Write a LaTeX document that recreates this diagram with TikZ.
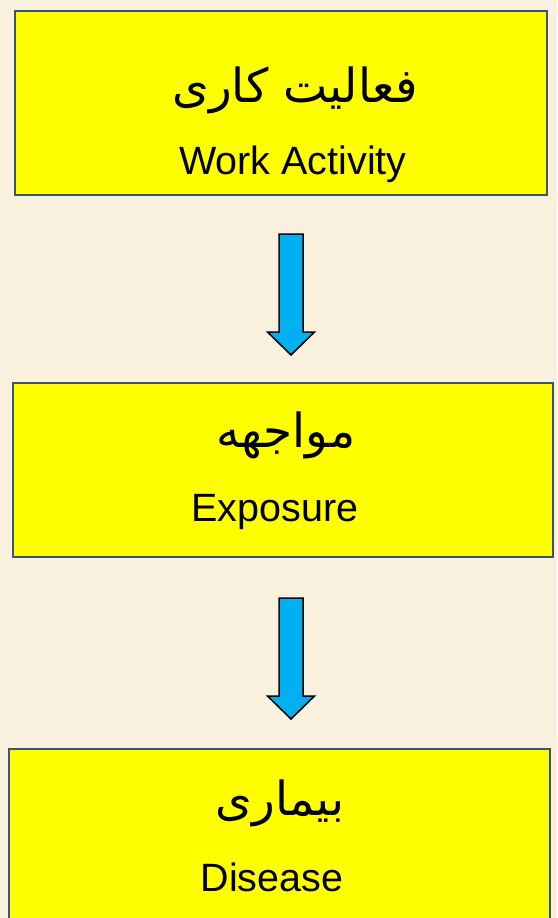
\documentclass[tikz,border=0pt]{standalone}
\usepackage{fontspec}
\setmainfont{Liberation Sans}
\newfontfamily\arabicfont[Script=Arabic]{DejaVu Sans}
\TeXXeTstate=1
\definecolor{paper}{RGB}{250,240,222}
\definecolor{boxfill}{RGB}{255,255,0}
\definecolor{boxline}{RGB}{59,83,117}
\definecolor{arrowfill}{RGB}{0,176,240}
\tikzset{
  stagebox/.style={draw=boxline, line width=1.6pt, fill=boxfill, rectangle, inner sep=0pt},
  fatext/.style={font=\arabicfont\fontsize{47}{50}\selectfont, inner sep=0pt},
  entext/.style={font=\fontsize{39.5}{42}\selectfont, inner sep=0pt},
  flowarrow/.style={draw=black, line width=1.5pt, fill=arrowfill, line join=miter}
}
% block arrow pointing down, top centre at (#1)
\newcommand\blockdown[2]{%
  \draw[flowarrow] (#1) ++(-12,0) -- ++(24,0) -- ++(0,98) -- ++(11.5,0)
     -- ++(-23.5,23) -- ++(-23.5,-23) -- ++(11.5,0) -- cycle;
  \coordinate (#2) at (#1);
}
\begin{document}
\begin{tikzpicture}[x=1pt,y=-1pt]
  \useasboundingbox (0,0) rectangle (557,918);
  \clip (0,0) rectangle (557,918);
  \fill[paper] (0,0) rectangle (557,918);

  % the three stages
  \node[stagebox, minimum width=532pt, minimum height=184pt] (work) at (281,103) {};
  \node[stagebox, minimum width=540pt, minimum height=174pt] (expo) at (283,470) {};
  \node[stagebox, minimum width=541pt, minimum height=200pt] (dis) at (279.5,849) {};

  % labels
  \node[fatext] (workfa) at (295,90) {\beginR فعالیت کاری\endR};
  \node[entext] (worken) at (293,164) {Work Activity};
  \node[fatext] (expofa) at (286,435) {\beginR مواجهه\endR};
  \node[entext] (expoen) at (275,512) {Exposure};
  \node[fatext] (disfa) at (280,803) {\beginR بیماری\endR};
  \node[entext] (disen) at (272,877) {Disease};

  % arrows between stages
  \coordinate (a1) at (291,234);
  \blockdown{a1}{a1top}
  \coordinate (a2) at (291,598);
  \blockdown{a2}{a2top}
\end{tikzpicture}
\end{document}
